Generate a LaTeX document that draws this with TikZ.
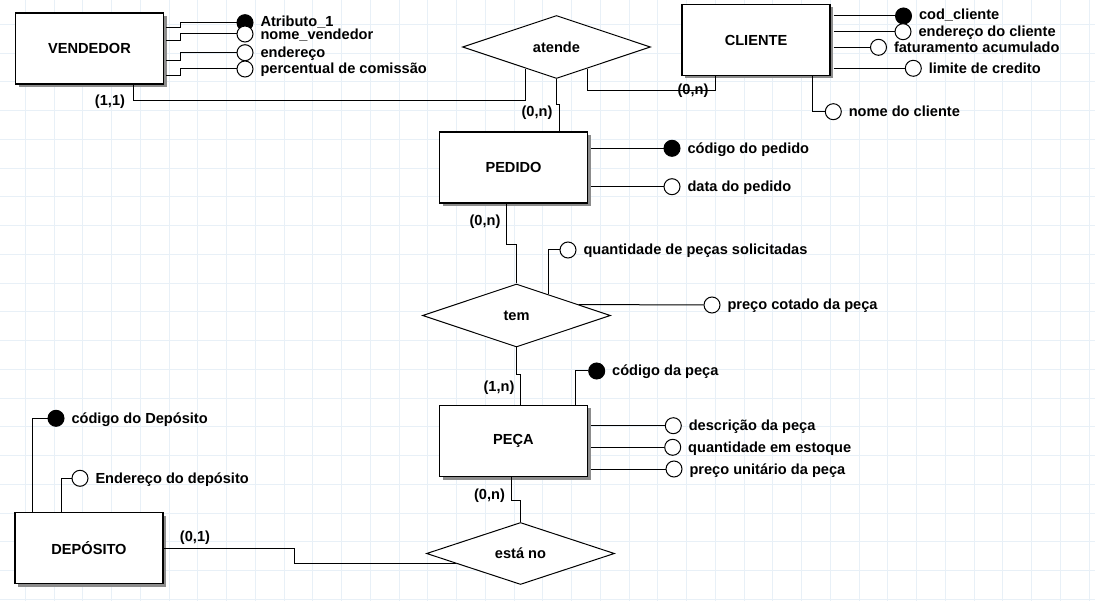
\documentclass[tikz,border=0pt]{standalone}
\usepackage{fontspec}
\setmainfont{Liberation Sans}
\usetikzlibrary{shapes.geometric,shadows}
\definecolor{gridc}{RGB}{232,240,247}

\begin{document}
\begin{tikzpicture}[x=1pt,y=-1pt,line width=1pt,
  font=\fontsize{14.6}{17}\selectfont\bfseries,
  ent/.style={draw,line width=1.3pt,fill=white,minimum width=148pt,minimum height=71pt,inner sep=0pt,
    drop shadow={shadow xshift=3pt,shadow yshift=-3pt,fill=black!45,opacity=1}},
  rel/.style={draw,fill=white,diamond,aspect=3,minimum width=188pt,minimum height=63pt,inner sep=0pt},
  attr/.style={draw,fill=white,circle,minimum size=16pt,inner sep=0pt},
  pkey/.style={attr,fill=black},
  atxt/.style={anchor=base west,inner sep=0pt,xshift=6.5pt,yshift=-5pt},
  card/.style={inner sep=0pt}]
  \useasboundingbox (0,0) rectangle (1095,601);
  \fill[white] (0,0) rectangle (1095,601);
  \foreach \k in {0,...,37}{\draw[gridc,line width=1pt] ({25.3+28.75*\k},0) -- ++(0,601);}
  \foreach \k in {0,...,20}{\draw[gridc,line width=1pt] (0,{24.3+28.75*\k}) -- ++(1095,0);}

  \node[ent] (vend) at (89.5,48.5) {VENDEDOR};
  \node[ent] (cli) at (756,40) {CLIENTE};
  \node[ent] (ped) at (513.5,167.5) {PEDIDO};
  \node[ent] (peca) at (513.5,441) {PEÇA};
  \node[ent] (dep) at (89,548) {DEPÓSITO};
  \node[rel] (atende) at (556.5,47) {atende};
  \node[rel] (tem) at (516.5,315.5) {tem};
  \node[rel,minimum height=62pt] (estano) at (520.5,553.5) {está no};

  \draw ([xshift=44pt]vend.south) -- ++(0,16) -| (atende.215);
  \draw (atende.325) -- ++(0,22) -| ([xshift=-41pt]cli.south);
  \draw (atende.south) -- ++(0,26) -| ([xshift=3pt]ped.north -| atende.south);
  \draw ([xshift=-7.5pt]ped.south) -- ++(0,41) -| (tem.north);
  \draw (tem.south) -- ++(0,27) -| ([xshift=7pt]peca.north);
  \draw ([xshift=-2.5pt]peca.south) -- ++(0,23) -| (estano.north);
  \draw (estano.189) -- ++(-162,0) |- (dep.east);

  \node[card] (c1) at (110,102) {(1,1)};
  \node[card] (c2) at (537,113) {(0,n)};
  \node[card] (c3) at (693,91) {(0,n)};
  \node[card] (c4) at (485,222) {(0,n)};
  \node[card] (c5) at (499,387.5) {(1,n)};
  \node[card] (c6) at (489.5,496) {(0,n)};
  \node[card] (c7) at (195,538) {(0,1)};

  \node[pkey] (va1) at (245,22.7) {};
  \node[attr] (va2) at (245,34) {};
  \node[attr] (va3) at (245,52.7) {};
  \node[attr] (va4) at (245,69) {};
  \foreach \n/\dy in {va1/15.3,va2/27.7,va3/47.7,va4/63.3}
    \draw (vend.north east) ++(2,\dy) -- ++(14,0) |- (\n);
  \node[atxt,yshift=1.5pt] (va1t) at (va1.east) {Atributo\_1};
  \node[atxt,yshift=-1pt] (va2t) at (va2.east) {nome\_vendedor};
  \node[atxt] (va3t) at (va3.east) {endereço};
  \node[atxt] (va4t) at (va4.east) {percentual de comissão};

  \node[pkey] (cc1) at (903.5,16) {};
  \node[attr] (cc2) at (903,31.7) {};
  \node[attr] (cc3) at (878.5,47.3) {};
  \node[attr] (cc4) at (913.3,68.3) {};
  \node[attr] (cc5) at (833.3,111.7) {};
  \foreach \n in {cc1,cc2,cc3,cc4}
    \draw ([xshift=3pt]\n -| cli.east) -- (\n);
  \draw ([xshift=56pt]cli.south) |- (cc5);
  \node[atxt,yshift=1pt] (cc1t) at (cc1.east) {cod\_cliente};
  \node[atxt] (cc2t) at (cc2.east) {endereço do cliente};
  \node[atxt] (cc3t) at (cc3.east) {faturamento acumulado};
  \node[atxt] (cc4t) at (cc4.east) {limite de credito};
  \node[atxt] (cc5t) at (cc5.east) {nome do cliente};

  \node[pkey] (pa1) at (672,148.3) {};
  \node[attr] (pa2) at (672,186.7) {};
  \foreach \n in {pa1,pa2}
    \draw ([xshift=3pt]\n -| ped.east) -- (\n);
  \node[atxt] (pa1t) at (pa1.east) {código do pedido};
  \node[atxt] (pa2t) at (pa2.east) {data do pedido};

  \node[attr] (ta1) at (568,250) {};
  \node[attr] (ta2) at (712,305) {};
  \draw (tem.34) |- (ta1);
  \draw (tem.10) -- (ta2);
  \node[atxt] (ta1t) at (ta1.east) {quantidade de peças solicitadas};
  \node[atxt] (ta2t) at (ta2.east) {preço cotado da peça};

  \node[pkey] (qa1) at (596.7,371) {};
  \node[attr] (qa2) at (673.3,425.7) {};
  \node[attr] (qa3) at (672.7,447.3) {};
  \node[attr] (qa4) at (674,469) {};
  \draw ([xshift=62pt]peca.north) |- (qa1);
  \foreach \n in {qa2,qa3,qa4}
    \draw ([xshift=3pt]\n -| peca.east) -- (\n);
  \node[atxt] (qa1t) at (qa1.east) {código da peça};
  \node[atxt] (qa2t) at (qa2.east) {descrição da peça};
  \node[atxt] (qa3t) at (qa3.east) {quantidade em estoque};
  \node[atxt] (qa4t) at (qa4.east) {preço unitário da peça};

  \node[pkey] (da1) at (56,418.3) {};
  \node[attr] (da2) at (80,478.3) {};
  \draw ([xshift=-57pt]dep.north) |- (da1);
  \draw ([xshift=-28pt]dep.north) |- (da2);
  \node[atxt] (da1t) at (da1.east) {código do Depósito};
  \node[atxt] (da2t) at (da2.east) {Endereço do depósito};
\end{tikzpicture}
\end{document}
